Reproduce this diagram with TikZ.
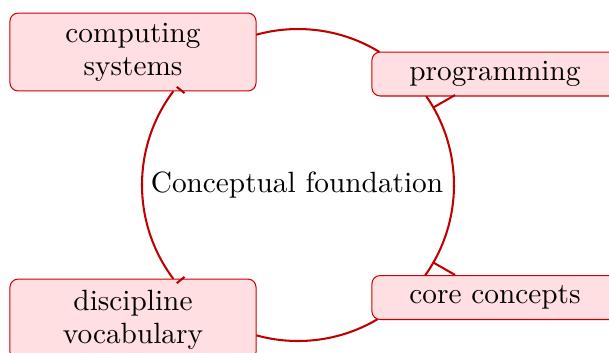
\documentclass[tikz,border=0pt]{standalone}
\usetikzlibrary{calc}
\definecolor{boxfill}{RGB}{255,223,225}
\definecolor{boxdraw}{RGB}{204,0,0}
\definecolor{arcred}{RGB}{192,0,0}
\begin{document}
\begin{tikzpicture}[x=0.3413pt,y=-0.3413pt,
  box/.style={draw=boxdraw, fill=boxfill, line width=0.35pt, rounded corners=2.8pt,
    minimum width=84pt, minimum height=15pt, align=center, inner sep=0pt,
    font=\fontsize{10}{11.3}\selectfont},
  conn/.style={draw=arcred, line width=0.7pt},
  tickmark/.style={draw=arcred, line width=0.7pt}]
\useasboundingbox (0,0) rectangle (609,352);
\coordinate (c) at (298,185);
% circle points where the connectors meet the boxes
\coordinate (cs-a) at ($(c)+(-105.6:156)$);
\coordinate (pr-a) at ($(c)+(-34.8:156)$);
\coordinate (cc-a) at ($(c)+(59.2:156)$);
\coordinate (dv-a) at ($(c)+(143:156)$);
% connectors along the circle
\draw[conn] (cs-a) arc[start angle=-105.6, end angle=-58.5, radius=156];
\draw[conn] (pr-a) arc[start angle=-34.8, end angle=35.7, radius=156];
\draw[conn] (cc-a) arc[start angle=59.2, end angle=105.6, radius=156];
\draw[conn] (dv-a) arc[start angle=143, end angle=217, radius=156];
% nodes
\node[box, minimum height=26.6pt] (cs) at (133,52) {computing\\systems};
\node[box] (pr) at (495,74) {programming};
\node[box] (cc) at (495,297.5) {core concepts};
\node[box, minimum height=27.6pt] (dv) at (133,319.5) {discipline\\vocabulary};
\node[font=\fontsize{10}{12}\selectfont] (cf) at (297,185) {Conceptual foundation};
% tick marks
\coordinate (t1a) at ($(c)+(-29.8:156)$);
\coordinate (t1b) at ($(c)+(-29.8:181)$);
\coordinate (t2a) at ($(c)+(29.8:156)$);
\coordinate (t2b) at ($(c)+(29.8:181)$);
\coordinate (t3a) at ($(c)+(219:156)$);
\coordinate (t3b) at ($(c)+(219:146)$);
\coordinate (t4a) at ($(c)+(141:156)$);
\coordinate (t4b) at ($(c)+(141:146)$);
\draw[tickmark] (t1a) -- (t1b);
\draw[tickmark] (t2a) -- (t2b);
\draw[tickmark] (t3a) -- (t3b);
\draw[tickmark] (t4a) -- (t4b);
\end{tikzpicture}
\end{document}
